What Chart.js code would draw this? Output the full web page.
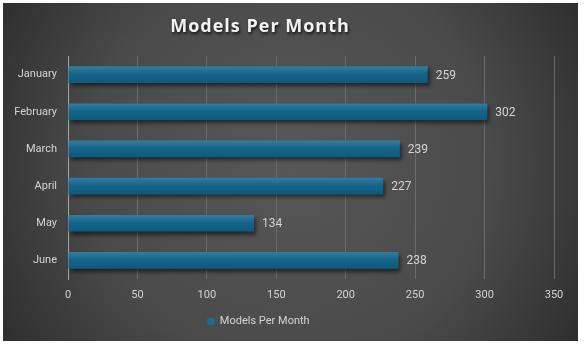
<!DOCTYPE html>
<html>
<head>
<meta charset="utf-8">
<script src="https://cdn.jsdelivr.net/npm/chart.js@4.4.1/dist/chart.umd.min.js"></script>
<style>
    html, body { margin: 0; padding: 0; background: #ffffff; }
    #wrap { position: absolute; left: 3px; top: 3px; width: 575px; height: 338px; }
</style>
</head>
<body>
<div id="wrap"><canvas id="modelsChart"></canvas></div>
<script>
// datos del grafico
const months = ['January', 'February', 'March', 'April', 'May', 'June'];
const models = [259, 302, 239, 227, 134, 238];
const xTicks = [0, 50, 100, 150, 200, 250, 300, 350];
const seriesName = 'Models Per Month';
const chartTitle = 'Models Per Month';

const textColor = '#d4d4d4';

// fondo con degradado radial
const backgroundPlugin = {
    id: 'background',
    beforeDraw(chart) {
        const ctx = chart.ctx;
        const w = chart.width, h = chart.height;
        const g = ctx.createRadialGradient(w * 0.5, h * 0.45, 10, w * 0.5, h * 0.5, w * 0.62);
        g.addColorStop(0, '#575757');
        g.addColorStop(0.55, '#4a4a4a');
        g.addColorStop(1, '#2a2a2a');
        ctx.save();
        ctx.fillStyle = g;
        ctx.fillRect(0, 0, w, h);
        ctx.restore();
    }
};

// titulo con sombra y espaciado
const titlePlugin = {
    id: 'shadowTitle',
    afterDraw(chart) {
        const ctx = chart.ctx;
        ctx.save();
        ctx.font = 'bold 18px "Open Sans"';
        ctx.letterSpacing = '1px';
        ctx.textAlign = 'center';
        ctx.textBaseline = 'middle';
        ctx.shadowColor = 'rgba(0,0,0,0.75)';
        ctx.shadowBlur = 3;
        ctx.shadowOffsetX = 1;
        ctx.shadowOffsetY = 2;
        ctx.fillStyle = '#f2f2f2';
        ctx.fillText(chartTitle, 257, 24);
        ctx.restore();
    }
};

// barras con degradado y sombra
const barStylePlugin = {
    id: 'barStyle',
    beforeDatasetsDraw(chart) {
        const ctx = chart.ctx;
        chart.getDatasetMeta(0).data.forEach(bar => {
            const top = bar.y - bar.height / 2;
            const g = ctx.createLinearGradient(0, top, 0, top + bar.height);
            g.addColorStop(0, '#337fa4');
            g.addColorStop(0.45, '#176489');
            g.addColorStop(1, '#0b5a80');
            bar.options.backgroundColor = g;
        });
        ctx.save();
        ctx.shadowColor = 'rgba(0,0,0,0.55)';
        ctx.shadowBlur = 4;
        ctx.shadowOffsetX = 2;
        ctx.shadowOffsetY = 3;
    },
    afterDatasetsDraw(chart) {
        const ctx = chart.ctx;
        ctx.restore();
        // etiquetas de valor
        ctx.save();
        ctx.font = '12px Roboto';
        ctx.fillStyle = textColor;
        ctx.textAlign = 'left';
        ctx.textBaseline = 'middle';
        chart.getDatasetMeta(0).data.forEach((bar, i) => {
            ctx.fillText(String(models[i]), bar.x + 8, bar.y + 1);
        });
        ctx.restore();
    }
};

// mover la leyenda para que quede bajo el titulo
const legendShiftPlugin = {
    id: 'legendShift',
    afterLayout(chart) {
        chart.legend.left -= 20;
        chart.legend.right -= 20;
    }
};

new Chart(document.getElementById('modelsChart'), {
    type: 'bar',
    data: {
        labels: months,
        datasets: [{
            label: seriesName,
            data: models,
            backgroundColor: () => '#176489',
            borderWidth: 0,
            barPercentage: 0.9,
            categoryPercentage: 0.5
        }]
    },
    options: {
        indexAxis: 'y',
        responsive: true,
        maintainAspectRatio: false,
        animation: false,
        events: [],
        layout: {
            padding: { top: 53, right: 24, left: 0, bottom: 4 }
        },
        plugins: {
            title: { display: false },
            tooltip: { enabled: false },
            legend: {
                display: true,
                position: 'bottom',
                labels: {
                    color: textColor,
                    font: { family: 'Roboto', size: 11 },
                    boxWidth: 7,
                    boxHeight: 7,
                    padding: 10,
                    generateLabels: () => [{
                        text: seriesName,
                        fillStyle: '#1b6c95',
                        strokeStyle: '#1b6c95',
                        lineWidth: 0,
                        fontColor: textColor,
                        datasetIndex: 0
                    }]
                }
            }
        },
        scales: {
            x: {
                min: 0,
                max: 350,
                afterBuildTicks: scale => {
                    scale.ticks = xTicks.map(v => ({ value: v }));
                },
                afterFit: scale => { scale.height = 27; },
                grid: {
                    color: '#6b6b6b',
                    lineWidth: 1,
                    drawTicks: false
                },
                border: { display: false },
                ticks: {
                    color: textColor,
                    font: { family: 'Roboto', size: 11 },
                    padding: 10
                }
            },
            y: {
                afterFit: scale => { scale.width = 65; },
                grid: { display: false, drawTicks: false },
                border: { display: true, color: '#a6a6a6', width: 1 },
                ticks: {
                    color: textColor,
                    font: { family: 'Roboto', size: 11 },
                    padding: 11
                }
            }
        }
    },
    plugins: [backgroundPlugin, barStylePlugin, titlePlugin, legendShiftPlugin]
});
</script>
</body>
</html>
